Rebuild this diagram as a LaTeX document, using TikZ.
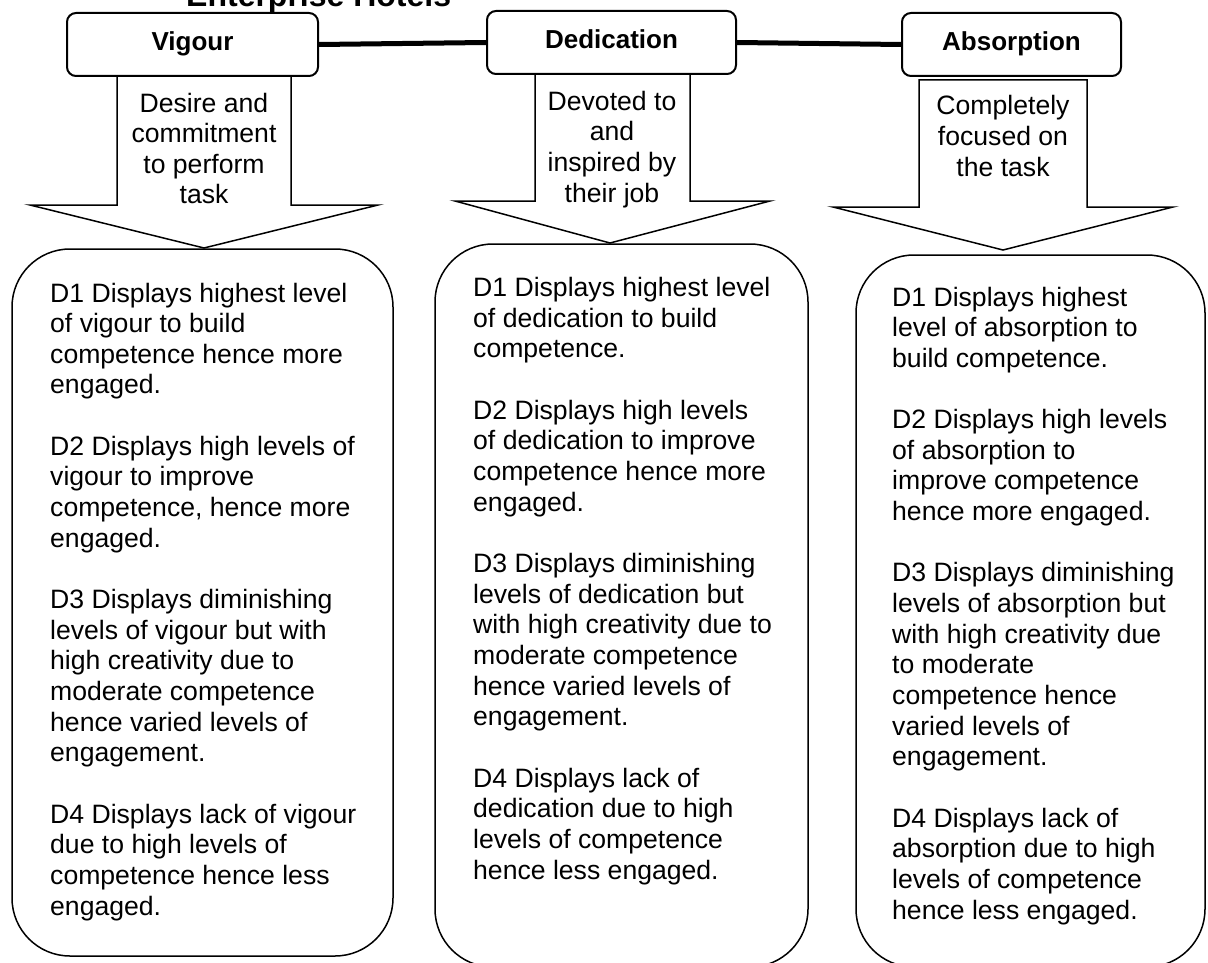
\documentclass[tikz,border=0pt]{standalone}
\usepackage{fontspec}
\setmainfont{Liberation Sans}
\begin{document}
\begin{tikzpicture}[x=1pt,y=-1pt,
  hdr/.style={draw, line width=2pt, rounded corners=9pt, font=\fontsize{26}{30}\selectfont\bfseries, text height=19pt, text depth=7pt, inner sep=0pt},
  body/.style={font=\fontsize{26.6}{30.65}\selectfont, align=left, inner sep=0pt, anchor=base west},
  atext/.style={font=\fontsize{26.6}{30.65}\selectfont, align=center, inner sep=0pt, anchor=base},
  blk/.style={draw, line width=1.5pt, fill=white, line join=miter},
  bbox/.style={draw, line width=1.5pt, rounded corners=58pt, inner sep=0pt},
  link/.style={line width=5pt}]
\useasboundingbox (0,0) rectangle (1208,963);
\clip (0,0) rectangle (1208,963);
\fill[white] (0,0) rectangle (1208,963);

% title (clipped at top)
\node[font=\fontsize{32}{36}\selectfont\bfseries, anchor=base west, inner sep=0pt] (title) at (186,7) {Enterprise Hotels};

% block arrows
\draw[blk] (117,76) -- (291,76) -- (291,205) -- (378,205) -- (204,248) -- (30,205) -- (117,205) -- cycle;
\draw[blk] (535,74) -- (690,74) -- (690,201) -- (770,201) -- (610,243) -- (455,201) -- (535,201) -- cycle;
\draw[blk] (919,80) -- (1087,80) -- (1087,207) -- (1173,207) -- (1003,250) -- (833,207) -- (919,207) -- cycle;

% header boxes
\node[hdr, fill=white, minimum width=251pt, minimum height=63pt] (vig) at (192.5,44.5) {Vigour};
\node[hdr, fill=white, minimum width=249pt, minimum height=63pt] (ded) at (611.5,42.5) {Dedication};
\node[hdr, fill=white, minimum width=219pt, minimum height=63pt] (abs) at (1011.5,44.5) {Absorption};

\draw[link] (vig.east) -- (ded.west);
\draw[link] (ded.east) -- (abs.west);

% arrow texts (anchored at the baseline of their last line)
\node[atext] (tv) at (204,204) {Desire and\\commitment\\to perform\\task};
\node[atext] (td) at (612,202) {Devoted to\\and\\inspired by\\their job};
\node[atext] (ta) at (1003,176) {Completely\\focused on\\the task};

% bottom boxes
\node[bbox, minimum width=381pt, minimum height=707pt] (bv) at (202.5,602.5) {};
\node[bbox, minimum width=373pt, minimum height=723pt] (bd) at (621.5,605.5) {};
\node[bbox, minimum width=349pt, minimum height=712pt] (ba) at (1030.5,611) {};

% body texts (anchored at the baseline of their last line)
\node[body] (xv) at (50,915) {D1 Displays highest level\\of vigour to build\\competence hence more\\engaged.\\[30.65pt]D2 Displays high levels of\\vigour to improve\\competence, hence more\\engaged.\\[30.65pt]D3 Displays diminishing\\levels of vigour but with\\high creativity due to\\moderate competence\\hence varied levels of\\engagement.\\[30.65pt]D4 Displays lack of vigour\\due to high levels of\\competence hence less\\engaged.};

\node[body] (xd) at (473,879) {D1 Displays highest level\\of dedication to build\\competence.\\[30.65pt]D2 Displays high levels\\of dedication to improve\\competence hence more\\engaged.\\[30.65pt]D3 Displays diminishing\\levels of dedication but\\with high creativity due to\\moderate competence\\hence varied levels of\\engagement.\\[30.65pt]D4 Displays lack of\\dedication due to high\\levels of competence\\hence less engaged.};

\node[body] (xa) at (892,919) {D1 Displays highest\\level of absorption to\\build competence.\\[30.65pt]D2 Displays high levels\\of absorption to\\improve competence\\hence more engaged.\\[30.65pt]D3 Displays diminishing\\levels of absorption but\\with high creativity due\\to moderate\\competence hence\\varied levels of\\engagement.\\[30.65pt]D4 Displays lack of\\absorption due to high\\levels of competence\\hence less engaged.};
\end{tikzpicture}
\end{document}
